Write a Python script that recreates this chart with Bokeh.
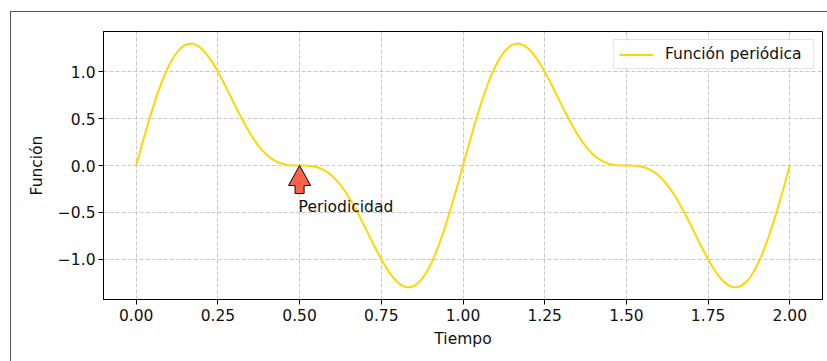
from bokeh.plotting import figure
from bokeh.models import (Range1d, FixedTicker, Legend, LegendItem, Label,
                          InlineStyleSheet)
from bokeh.embed import file_html
from bokeh.resources import INLINE
import numpy as np

# Sampled periodic signal, step 0.0125 in time (two periods, 161 samples)
tiempo = np.linspace(0.0, 2.0, 161)
funcion = [
    0.000,
    # first period
    0.157, 0.311, 0.460, 0.603, 0.736, 0.858, 0.968, 1.063, 1.143, 1.207,
    1.254, 1.285, 1.298, 1.296, 1.277, 1.245, 1.199, 1.142, 1.075, 1.000,
    0.919, 0.833, 0.745, 0.657, 0.570, 0.487, 0.407, 0.333, 0.267, 0.207,
    0.156, 0.112, 0.077, 0.049, 0.029, 0.015, 0.006, 0.002, 0.000, 0.000,
    0.000, -0.002, -0.006, -0.015, -0.029, -0.049, -0.077, -0.112, -0.156, -0.207,
    -0.267, -0.333, -0.407, -0.487, -0.570, -0.657, -0.745, -0.833, -0.919, -1.000,
    -1.075, -1.142, -1.199, -1.245, -1.277, -1.296, -1.298, -1.285, -1.254, -1.207,
    -1.143, -1.063, -0.968, -0.858, -0.736, -0.603, -0.460, -0.311, -0.157, 0.000,
    # second period
    0.157, 0.311, 0.460, 0.603, 0.736, 0.858, 0.968, 1.063, 1.143, 1.207,
    1.254, 1.285, 1.298, 1.296, 1.277, 1.245, 1.199, 1.142, 1.075, 1.000,
    0.919, 0.833, 0.745, 0.657, 0.570, 0.487, 0.407, 0.333, 0.267, 0.207,
    0.156, 0.112, 0.077, 0.049, 0.029, 0.015, 0.006, 0.002, 0.000, 0.000,
    0.000, -0.002, -0.006, -0.015, -0.029, -0.049, -0.077, -0.112, -0.156, -0.207,
    -0.267, -0.333, -0.407, -0.487, -0.570, -0.657, -0.745, -0.833, -0.919, -1.000,
    -1.075, -1.142, -1.199, -1.245, -1.277, -1.296, -1.298, -1.285, -1.254, -1.207,
    -1.143, -1.063, -0.968, -0.858, -0.736, -0.603, -0.460, -0.311, -0.157, 0.000,
]
assert len(funcion) == len(tiempo)

x_ticks = [0.0, 0.25, 0.5, 0.75, 1.0, 1.25, 1.5, 1.75, 2.0]
x_tick_labels = ["0.00", "0.25", "0.50", "0.75", "1.00", "1.25", "1.50", "1.75", "2.00"]
y_ticks = [-1.0, -0.5, 0.0, 0.5, 1.0]
y_tick_labels = ["\u22121.0", "\u22120.5", "0.0", "0.5", "1.0"]

# Annotation: arrow tip at the flat point, text below it
anotacion_xy = (0.5, 0.0)
anotacion_texto_xy = (0.5, -0.5)
anotacion_texto = "Periodicidad"

FONT = "DejaVu Sans"
FS = "15.5px"
TXT = "#111111"
W, H = 827, 361
LEFT, RIGHT, TOP, BOTTOM = 103, 5, 31, 62

# Axis limits with a 5% margin around the data
tmin, tmax = float(tiempo[0]), float(tiempo[-1])
fmin, fmax = min(funcion), max(funcion)
xpad = 0.05 * (tmax - tmin)
ypad = 0.05 * (fmax - fmin)
x0, x1 = tmin - xpad, tmax + xpad
y0, y1 = fmin - ypad, fmax + ypad

p = figure(width=W, height=H, output_backend="svg", toolbar_location=None,
           x_range=Range1d(x0, x1), y_range=Range1d(y0, y1),
           min_border_left=LEFT, min_border_right=RIGHT,
           min_border_top=TOP, min_border_bottom=BOTTOM,
           background_fill_color="white", border_fill_color="white")

p.outline_line_color = "black"
p.outline_line_width = 1

for ax in (p.xaxis[0], p.yaxis[0]):
    ax.axis_line_color = "black"
    ax.major_tick_line_color = "black"
    ax.major_tick_out = 5
    ax.major_tick_in = 0
    ax.minor_tick_line_color = None
    ax.major_label_text_font = FONT
    ax.major_label_text_font_size = FS
    ax.major_label_text_color = TXT
    ax.axis_label_text_font = FONT
    ax.axis_label_text_font_size = FS
    ax.axis_label_text_font_style = "normal"
    ax.axis_label_text_color = TXT

p.xaxis.ticker = FixedTicker(ticks=x_ticks)
p.xaxis.major_label_overrides = dict(zip(x_ticks, x_tick_labels))
p.yaxis.ticker = FixedTicker(ticks=y_ticks)
p.yaxis.major_label_overrides = dict(zip(y_ticks, y_tick_labels))
p.xaxis.axis_label = "Tiempo"
p.yaxis.axis_label = "Función"
p.xaxis.major_label_standoff = 4
p.xaxis.axis_label_standoff = 6
p.yaxis.major_label_standoff = 3
p.yaxis.axis_label_standoff = 9

for g in (p.xgrid[0], p.ygrid[0]):
    g.grid_line_color = "#b0b0b0"
    g.grid_line_alpha = 0.7
    g.grid_line_dash = "4 2"
    g.grid_line_width = 1

linea = p.line(tiempo, funcion, line_color="#FFD700", line_width=2)

# Arrow shape in pixels relative to its tip (dy measured downward)
frame_w = W - LEFT - RIGHT
frame_h = H - TOP - BOTTOM
sx = frame_w / (x1 - x0)
sy = frame_h / (y1 - y0)
arrow_px = [(0, 0), (11, 20), (4.5, 20), (4.5, 28), (-4.5, 28), (-4.5, 20), (-11, 20)]
ax_pts = [anotacion_xy[0] + dx / sx for dx, dy in arrow_px]
ay_pts = [anotacion_xy[1] - dy / sy for dx, dy in arrow_px]
p.patch(ax_pts, ay_pts, fill_color="#FF6347", line_color="black", line_width=1)

p.add_layout(Label(x=anotacion_texto_xy[0], y=anotacion_texto_xy[1],
                   text=anotacion_texto, text_font=FONT, text_font_size=FS,
                   text_color=TXT, text_baseline="alphabetic",
                   text_align="left", x_offset=-1, y_offset=5))

legend = Legend(items=[LegendItem(label="Función periódica", renderers=[linea])],
                location="top_right", margin=8, padding=5, spacing=0,
                label_standoff=12, glyph_width=34, glyph_height=17,
                label_width=143,
                label_text_font=FONT, label_text_font_size=FS,
                label_text_color=TXT,
                border_line_color="#cccccc", border_line_width=1,
                background_fill_color="white", background_fill_alpha=0.8)
p.add_layout(legend)

# Outer figure border
p.stylesheets = [InlineStyleSheet(css="""
:host { position: relative; }
:host::after {
  content: ""; position: absolute; left: 10px; top: 11px;
  width: 900px; height: 400px; border: 1px solid #555555;
  pointer-events: none; box-sizing: border-box;
}
""")]

open("out.html", "w").write(file_html(p, INLINE))
